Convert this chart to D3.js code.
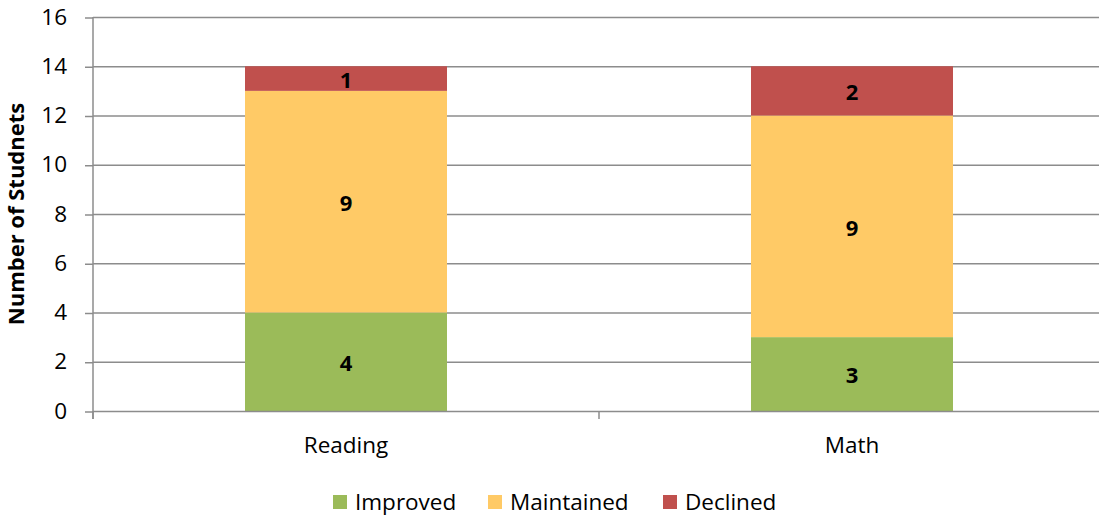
<!DOCTYPE html>
<html><head><meta charset="utf-8">
<script src="https://d3js.org/d3.v7.min.js"></script>
<style>body{margin:0;background:#fff}svg{display:block}text{font-family:"Open Sans",sans-serif}</style>
</head><body><svg id="c" width="1099" height="516"></svg>
<script>
const categories = ["Reading", "Math"];
const seriesNames = ["Improved", "Maintained", "Declined"];
const improved = [4, 3];
const maintained = [9, 9];
const declined = [1, 2];
const yTicks = [0, 2, 4, 6, 8, 10, 12, 14, 16];
const colors = ["#9BBB59", "#FFCA66", "#C0504D"];

const FONT = "'Open Sans', sans-serif";
const FS = 22.5;
const svg = d3.select("#c");
const L = 93, R = 1105, T = 17, B = 411;
const x = d3.scaleBand().domain(categories).range([L, R]).paddingInner(0.6).paddingOuter(0.3);
const y = d3.scaleLinear().domain([0, 16]).range([B, T]);
const grid = "#8C8C8C";

// gridlines
svg.append("g").selectAll("line").data(yTicks.filter(d => d > 0)).join("line")
  .attr("x1", L).attr("x2", R).attr("y1", d => y(d) + 0.5).attr("y2", d => y(d) + 0.5)
  .attr("stroke", grid).attr("stroke-width", 1.5);

// stacks
const rows = categories.map((c, i) => ({cat: c, Improved: improved[i], Maintained: maintained[i], Declined: declined[i]}));
const stack = d3.stack().keys(seriesNames)(rows);
const bw = 202;
stack.forEach((s, si) => {
  const g = svg.append("g");
  g.selectAll("rect").data(s).join("rect")
    .attr("x", d => x(d.data.cat) + x.bandwidth() / 2 - bw / 2)
    .attr("width", bw)
    .attr("y", d => y(d[1]))
    .attr("height", d => y(d[0]) - y(d[1]))
    .attr("fill", colors[si]);
  g.selectAll("text").data(s).join("text")
    .attr("x", d => x(d.data.cat) + x.bandwidth() / 2)
    .attr("y", d => (y(d[0]) + y(d[1])) / 2 + 1.5)
    .attr("dy", "0.36em")
    .attr("text-anchor", "middle")
    .attr("font-weight", "bold").attr("font-size", 22)
    .text(d => d[1] - d[0]);
});

// y axis
const ya = svg.append("g").attr("transform", `translate(${L},0)`)
  .call(d3.axisLeft(y).tickValues(yTicks).tickSize(8).tickPadding(18));
ya.select(".domain").remove();
ya.selectAll(".tick line").attr("stroke", grid).attr("stroke-width", 1.5).attr("transform", "translate(0,0.5)");
ya.selectAll(".tick text").attr("font-size", FS).attr("fill", "#000").attr("font-family", FONT);
svg.append("line").attr("x1", L).attr("x2", L).attr("y1", T).attr("y2", B + 8)
  .attr("stroke", grid).attr("stroke-width", 1.5);

// x axis
svg.append("line").attr("x1", L).attr("x2", R).attr("y1", B + 0.5).attr("y2", B + 0.5)
  .attr("stroke", grid).attr("stroke-width", 1.5);
const bounds = [L, L + (R - L) / 2, R];
svg.append("g").selectAll("line").data(bounds).join("line")
  .attr("x1", d => d).attr("x2", d => d).attr("y1", B).attr("y2", B + 8)
  .attr("stroke", grid).attr("stroke-width", 1.5);
svg.append("g").selectAll("text").data(categories).join("text")
  .attr("x", d => x(d) + x.bandwidth() / 2).attr("y", 453)
  .attr("text-anchor", "middle").attr("font-size", FS).text(d => d);

// y title
svg.append("text").attr("transform", "translate(24,214) rotate(-90)")
  .attr("text-anchor", "middle").attr("font-weight", "bold").attr("font-size", 22)
  .text("Number of Studnets");

// legend
const legX = [333, 488, 663];
const lg = svg.append("g").selectAll("g").data(seriesNames).join("g")
  .attr("transform", (d, i) => `translate(${legX[i]},495)`);
lg.append("rect").attr("width", 14).attr("height", 14).attr("fill", (d, i) => colors[i]);
lg.append("text").attr("x", 22).attr("y", 7).attr("dy", "0.36em").attr("font-size", FS).text(d => d);
</script></body></html>
